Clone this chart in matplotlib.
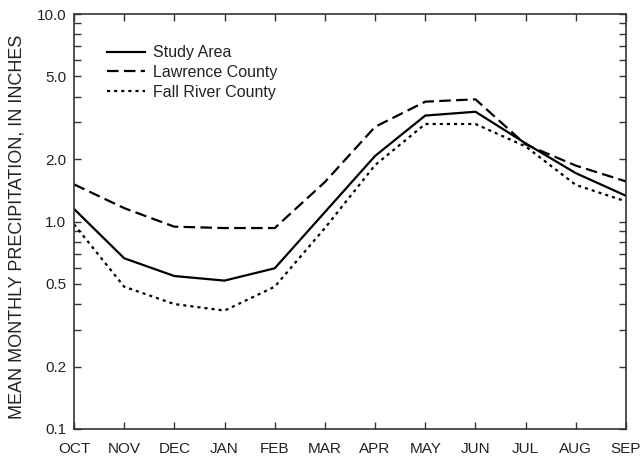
import matplotlib
matplotlib.use("Agg")
import matplotlib.pyplot as plt
from matplotlib.ticker import FixedLocator, NullFormatter, FixedFormatter

plt.rcParams['font.family'] = ['Liberation Sans', 'DejaVu Sans']

months = ["OCT", "NOV", "DEC", "JAN", "FEB", "MAR", "APR", "MAY", "JUN", "JUL", "AUG", "SEP"]
study_area = [1.15, 0.665, 0.546, 0.519, 0.595, 1.11, 2.07, 3.24, 3.38, 2.38, 1.71, 1.33]
lawrence = [1.51, 1.16, 0.944, 0.93, 0.93, 1.55, 2.86, 3.78, 3.88, 2.35, 1.86, 1.56]
fall_river = [0.97, 0.485, 0.40, 0.372, 0.485, 0.93, 1.87, 2.95, 2.95, 2.30, 1.50, 1.25]
ytick_values = [0.1, 0.2, 0.5, 1.0, 2.0, 5.0, 10.0]
ytick_labels = ["0.1", "0.2", "0.5", "1.0", "2.0", "5.0", "10.0"]

fig = plt.figure(figsize=(6.41, 4.62), dpi=100)
ax = fig.add_axes([74/641, 33/462, 552/641, 415/462])

x = list(range(len(months)))
ax.plot(x, study_area, color='black', lw=1.6, label='Study Area')
ax.plot(x, lawrence, color='black', lw=1.6, linestyle=(0, (5.2, 2.4)), label='Lawrence County')
ax.plot(x, fall_river, color='black', lw=1.6, linestyle=(0, (1.4, 1.8)), label='Fall River County')

ax.set_yscale('log')
ax.set_ylim(0.1, 10.0)
ax.set_xlim(0, len(months) - 1)

minor = []
for d in [0.1, 1.0]:
    for m in [3, 4, 6, 7, 8, 9]:
        minor.append(d * m)
ax.yaxis.set_major_locator(FixedLocator(ytick_values))
ax.yaxis.set_major_formatter(FixedFormatter(ytick_labels))
ax.yaxis.set_minor_locator(FixedLocator(minor))
ax.yaxis.set_minor_formatter(NullFormatter())
ax.set_xticks(x)
ax.set_xticklabels(months)

tc = '#333333'
ax.tick_params(axis='both', which='both', direction='in', length=5, width=1.0,
               color=tc, top=True, right=True, labelsize=11, labelcolor='#222222')
ax.tick_params(axis='y', which='both', pad=5.5)
ax.tick_params(axis='x', which='both', pad=9.5)
for s in ax.spines.values():
    s.set_color(tc)
    s.set_linewidth(1.2)

fig.text(17.5/641, 1 - 226.5/462, "MEAN MONTHLY PRECIPITATION, IN INCHES", fontsize=13,
         color='#222222', rotation=90, ha='center', va='center')

leg = ax.legend(loc='upper left', bbox_to_anchor=(0.0598, 0.925), frameon=False,
                fontsize=11.5, handlelength=2.4, handletextpad=0.5, labelspacing=0.3,
                borderpad=0, borderaxespad=0)
for t in leg.get_texts():
    t.set_color('#222222')

fig.savefig("out.png", dpi=100)
